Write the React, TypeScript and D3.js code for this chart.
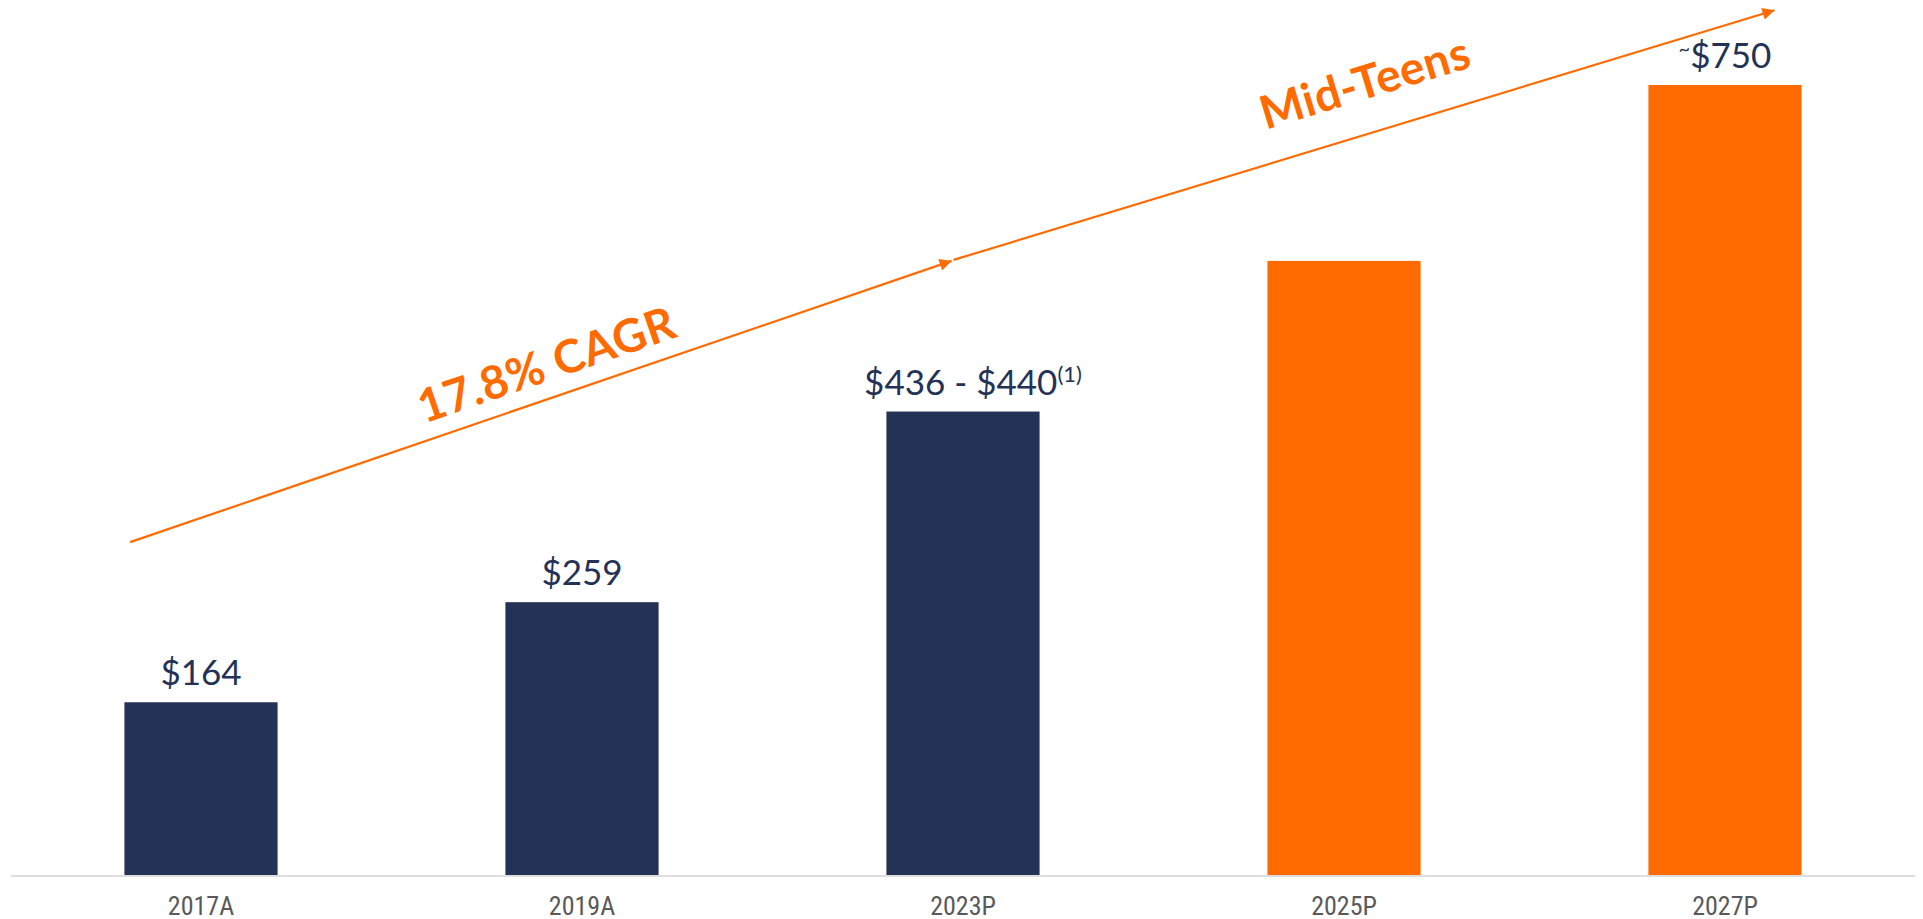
import * as d3 from "d3";

// chart data
const categories = ["2017A", "2019A", "2023P", "2025P", "2027P"];
const revenue = [164, 259, 440, 583, 750];
const valueLabels = ["$164", "$259", "$436 - $440", "", "$750"];
const labelPrefix = ["", "", "", "", "~"];
const labelNotes = ["", "", "(1)", "", ""];
const projected = [false, false, false, true, true];

// trend arrows: [category position, value]
const trendLabels = ["17.8% CAGR", "Mid-Teens"];
const trendPoints = [
  [-0.186, 316],
  [1.97, 583],
  [4.13, 821],
];

const W = 1923;
const H = 919;
const NAVY = "#243256";
const ORANGE = "#FF6B00";

export default function App() {
  const x = d3
    .scaleBand()
    .domain(categories)
    .range([10.5, 1915.5])
    .paddingInner(0.598)
    .paddingOuter(0.299);
  const y = d3.scaleLinear().domain([0, 750]).range([875, 85]);
  const bw = x.bandwidth();
  const xi = d3
    .scaleLinear()
    .domain([0, categories.length - 1])
    .range([x(categories[0])! + bw / 2, x(categories[categories.length - 1])! + bw / 2]);

  const pts = trendPoints.map(([i, v]) => [xi(i), y(v)]);
  const segments = [
    [pts[0], pts[1]],
    [pts[1], pts[2]],
  ];
  const offsets = [17, 34];

  return (
    <svg
      width={W}
      height={H}
      style={{ position: "absolute", left: 0, top: 0, background: "#fff" }}
    >
      <defs>
        <marker
          id="head"
          viewBox="0 0 10 10"
          refX="10"
          refY="5"
          markerUnits="userSpaceOnUse"
          markerWidth="17"
          markerHeight="12"
          orient="auto"
        >
          <path d="M0,0 L10,5 L0,10 z" fill={ORANGE} />
        </marker>
      </defs>

      {/* baseline */}
      <line x1={11} x2={1915} y1={y(0) + 1} y2={y(0) + 1} stroke="#dedede" strokeWidth={2} />

      {categories.map((c, i) => (
        <g key={c}>
          <rect
            x={x(c)}
            y={y(revenue[i])}
            width={bw}
            height={y(0) - y(revenue[i])}
            fill={projected[i] ? ORANGE : NAVY}
          />
          <text
            x={x(c)! + bw / 2}
            y={915}
            textAnchor="middle"
            fontFamily="'Liberation Sans Narrow', 'Roboto Condensed', Roboto, sans-serif"
            fontSize={26}
            fill="#595959"
          >
            {c}
          </text>
          {valueLabels[i] && (
            <text
              x={x(c)! + bw / 2 + (labelNotes[i] ? 10 : 0)}
              y={y(revenue[i]) - 17}
              textAnchor="middle"
              fontFamily="Lato, 'Open Sans', sans-serif"
              fontSize={35}
              fill={NAVY}
            >
              {labelPrefix[i] && (
                <tspan fontSize={20} dy={-12}>
                  {labelPrefix[i]}
                </tspan>
              )}
              <tspan dy={labelPrefix[i] ? 12 : 0}>{valueLabels[i]}</tspan>
              {labelNotes[i] && (
                <tspan fontSize={22} dy={-13}>
                  {labelNotes[i]}
                </tspan>
              )}
            </text>
          )}
        </g>
      ))}

      {/* trend arrows */}
      {segments.map(([a, b], k) => {
        const ang = (Math.atan2(b[1] - a[1], b[0] - a[0]) * 180) / Math.PI;
        const t = 0.52;
        const px = a[0] + (b[0] - a[0]) * t;
        const py = a[1] + (b[1] - a[1]) * t;
        return (
          <g key={k}>
            <line
              x1={a[0] + (k ? 2 : 0)}
              y1={a[1] - (k ? 1 : 0)}
              x2={b[0]}
              y2={b[1]}
              stroke={ORANGE}
              strokeWidth={2.2}
              markerEnd="url(#head)"
            />
            <text
              transform={`translate(${px},${py}) rotate(${ang})`}
              y={-offsets[k]}
              textAnchor="middle"
              fontFamily="Lato, 'Open Sans', sans-serif"
              fontWeight={700}
              fontSize={46}
              fill={ORANGE}
              letterSpacing={0.5}
            >
              {trendLabels[k]}
            </text>
          </g>
        );
      })}
    </svg>
  );
}
